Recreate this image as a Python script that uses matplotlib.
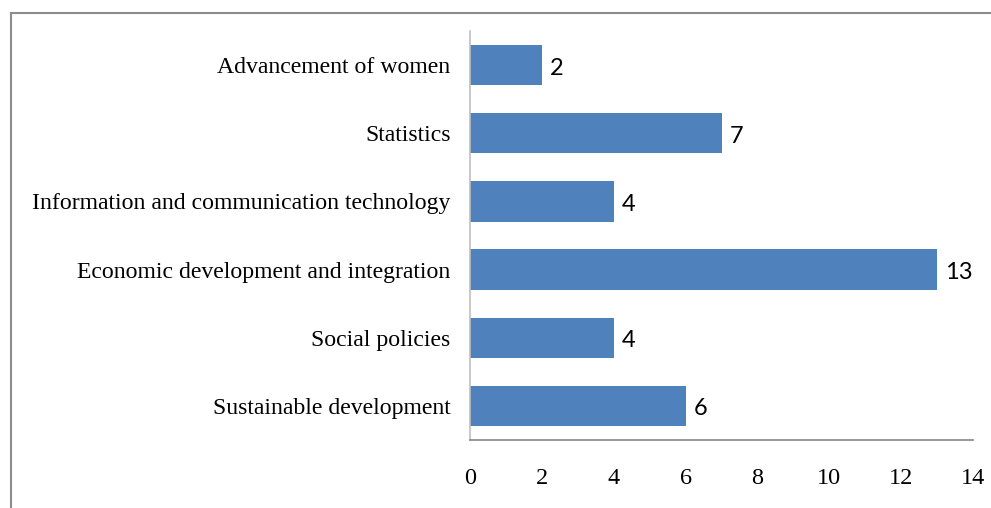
import matplotlib.pyplot as plt
from matplotlib.lines import Line2D

categories = ["Sustainable development", "Social policies",
              "Economic development and integration",
              "Information and communication technology",
              "Statistics", "Advancement of women"]
counts = [6, 4, 13, 4, 7, 2]
xticks = [0, 2, 4, 6, 8, 10, 12, 14]

W, H = 991, 508
fig = plt.figure(figsize=(W / 100, H / 100), dpi=100)
ax = fig.add_axes([470 / W, 1 - 440 / H, (973 - 470) / W, (440 - 31) / H])

bars = ax.barh(range(len(categories)), counts, height=0.59, color="#4F81BD")
ax.set_ylim(-0.5, len(categories) - 0.5)
ax.set_xlim(0, 14)
ax.set_xticks(xticks)
ax.set_yticks(range(len(categories)))
ax.set_yticklabels(categories, family="Liberation Serif", fontsize=17.1)
for lab in ax.get_xticklabels():
    lab.set_family("Liberation Serif")
    lab.set_fontsize(17.5)
ax.tick_params(length=0)
ax.tick_params(axis="y", pad=14)
ax.tick_params(axis="x", pad=20)

for b, v in zip(bars, counts):
    ax.annotate(str(v), (v, b.get_y() + b.get_height() / 2),
                xytext=(8, -3), textcoords="offset pixels",
                ha="left", va="center", family="Lato", fontsize=17)

for side in ("top", "right"):
    ax.spines[side].set_visible(False)
ax.spines["left"].set_color("#BFBFBF")
ax.spines["bottom"].set_color("#868686")
ax.spines["left"].set_linewidth(1.2)
ax.spines["bottom"].set_linewidth(1.2)

# outer frame, open on the right and bottom
fx, fy = 10.5 / W, 1 - 12.5 / H
fig.add_artist(Line2D([fx, fx], [0, fy], color="#8C8C8C", lw=1.5))
fig.add_artist(Line2D([fx, 1], [fy, fy], color="#8C8C8C", lw=1.5))

fig.savefig("out.png", dpi=100)
